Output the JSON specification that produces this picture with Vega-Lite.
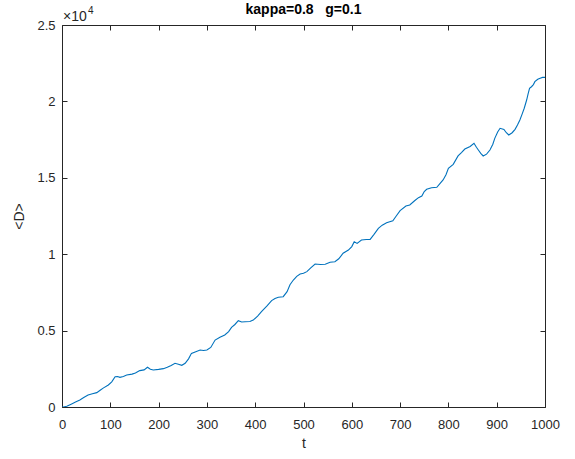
{
  "$schema": "https://vega.github.io/schema/vega-lite/v6.json",
  "width": 483,
  "height": 382,
  "autosize": {"type": "none"},
  "padding": {"left": 62, "top": 25, "right": 30, "bottom": 52},
  "background": "#ffffff",
  "config": {
    "view": {"stroke": null},
    "font": "Liberation Sans",
    "axis": {
      "domainColor": "#262626",
      "tickColor": "#262626",
      "labelColor": "#262626",
      "titleColor": "#262626",
      "labelFont": "Liberation Sans",
      "titleFont": "Liberation Sans",
      "labelFontSize": 13,
      "titleFontSize": 14,
      "titleFontWeight": "normal",
      "grid": false,
      "tickSize": -5,
      "domainWidth": 1,
      "tickWidth": 1
    }
  },
  "title": {
    "text": "kappa=0.8\u00a0\u00a0\u00a0g=0.1",
    "font": "Liberation Sans",
    "fontSize": 14,
    "fontWeight": "bold",
    "color": "#000000",
    "anchor": "middle",
    "offset": -11
  },
  "data": {
    "values": [
      {"t": 0, "D": 0}, {"t": 3, "D": 0}, {"t": 10, "D": 50}, {"t": 20, "D": 200}, {"t": 28, "D": 320},
      {"t": 37, "D": 460}, {"t": 45, "D": 620}, {"t": 54, "D": 790}, {"t": 63, "D": 870}, {"t": 72, "D": 940},
      {"t": 79, "D": 1100}, {"t": 86, "D": 1250}, {"t": 96, "D": 1440}, {"t": 103, "D": 1650}, {"t": 110, "D": 1980},
      {"t": 115, "D": 2000}, {"t": 120, "D": 1940}, {"t": 127, "D": 2000}, {"t": 134, "D": 2090}, {"t": 145, "D": 2150},
      {"t": 152, "D": 2220}, {"t": 161, "D": 2380}, {"t": 170, "D": 2430}, {"t": 177, "D": 2600}, {"t": 183, "D": 2470},
      {"t": 189, "D": 2420}, {"t": 200, "D": 2460}, {"t": 210, "D": 2510}, {"t": 218, "D": 2600}, {"t": 226, "D": 2720},
      {"t": 234, "D": 2860}, {"t": 241, "D": 2800}, {"t": 248, "D": 2730}, {"t": 255, "D": 2860}, {"t": 262, "D": 3150},
      {"t": 268, "D": 3510}, {"t": 277, "D": 3620}, {"t": 286, "D": 3730}, {"t": 293, "D": 3700}, {"t": 300, "D": 3730},
      {"t": 308, "D": 3900}, {"t": 317, "D": 4380}, {"t": 327, "D": 4560}, {"t": 337, "D": 4710}, {"t": 345, "D": 4930},
      {"t": 351, "D": 5210}, {"t": 358, "D": 5400}, {"t": 365, "D": 5650}, {"t": 372, "D": 5560}, {"t": 379, "D": 5580},
      {"t": 389, "D": 5600}, {"t": 396, "D": 5690}, {"t": 405, "D": 5950}, {"t": 413, "D": 6240}, {"t": 424, "D": 6600},
      {"t": 434, "D": 6960}, {"t": 441, "D": 7100}, {"t": 448, "D": 7180}, {"t": 458, "D": 7220}, {"t": 466, "D": 7550},
      {"t": 472, "D": 8000}, {"t": 479, "D": 8310}, {"t": 486, "D": 8550}, {"t": 493, "D": 8700}, {"t": 500, "D": 8750},
      {"t": 507, "D": 8860}, {"t": 515, "D": 9100}, {"t": 524, "D": 9360}, {"t": 535, "D": 9330}, {"t": 545, "D": 9340},
      {"t": 555, "D": 9470}, {"t": 565, "D": 9510}, {"t": 573, "D": 9700}, {"t": 582, "D": 10060}, {"t": 593, "D": 10270},
      {"t": 600, "D": 10500}, {"t": 605, "D": 10820}, {"t": 611, "D": 10710}, {"t": 620, "D": 10930}, {"t": 630, "D": 10960},
      {"t": 638, "D": 10970}, {"t": 646, "D": 11300}, {"t": 655, "D": 11690}, {"t": 663, "D": 11900}, {"t": 672, "D": 12060},
      {"t": 685, "D": 12190}, {"t": 692, "D": 12500}, {"t": 700, "D": 12850}, {"t": 712, "D": 13150}, {"t": 720, "D": 13220},
      {"t": 730, "D": 13500}, {"t": 738, "D": 13700}, {"t": 745, "D": 13810}, {"t": 750, "D": 14100}, {"t": 755, "D": 14250},
      {"t": 765, "D": 14350}, {"t": 776, "D": 14380}, {"t": 782, "D": 14600}, {"t": 789, "D": 14860}, {"t": 795, "D": 15200},
      {"t": 800, "D": 15620}, {"t": 810, "D": 15880}, {"t": 820, "D": 16430}, {"t": 827, "D": 16650}, {"t": 834, "D": 16880},
      {"t": 845, "D": 17050}, {"t": 853, "D": 17260}, {"t": 858, "D": 17000}, {"t": 862, "D": 16820}, {"t": 867, "D": 16600},
      {"t": 872, "D": 16430}, {"t": 879, "D": 16550}, {"t": 886, "D": 16820}, {"t": 892, "D": 17200}, {"t": 896, "D": 17580},
      {"t": 902, "D": 18000}, {"t": 907, "D": 18240}, {"t": 915, "D": 18170}, {"t": 920, "D": 17950}, {"t": 925, "D": 17800},
      {"t": 932, "D": 17950}, {"t": 938, "D": 18170}, {"t": 943, "D": 18450}, {"t": 948, "D": 18780}, {"t": 953, "D": 19200},
      {"t": 957, "D": 19550}, {"t": 962, "D": 20090}, {"t": 965, "D": 20500}, {"t": 968, "D": 20860}, {"t": 972, "D": 20960},
      {"t": 976, "D": 21100}, {"t": 979, "D": 21290}, {"t": 985, "D": 21450}, {"t": 990, "D": 21510}, {"t": 995, "D": 21570},
      {"t": 1000, "D": 21570}
    ]
  },
  "layer": [
    {
      "mark": {"type": "line", "color": "#0072BD", "strokeWidth": 1.1, "clip": true},
      "encoding": {
        "x": {
          "field": "t", "type": "quantitative",
          "scale": {"domain": [0, 1000], "nice": false, "zero": false},
          "axis": {"orient": "bottom", "values": [0, 100, 200, 300, 400, 500, 600, 700, 800, 900, 1000], "format": "d", "labelPadding": 16, "title": "t", "titlePadding": 5, "labelFlush": false}
        },
        "y": {
          "field": "D", "type": "quantitative",
          "scale": {"domain": [0, 25000], "nice": false, "zero": false},
          "axis": {"orient": "left", "values": [0, 5000, 10000, 15000, 20000, 25000], "labelExpr": "format(datum.value / 10000, '~g')", "labelPadding": 12, "title": "<D>", "titlePadding": 10, "labelFlush": false}
        }
      }
    },
    {
      "mark": {"type": "line", "opacity": 0},
      "encoding": {
        "x": {
          "field": "t", "type": "quantitative",
          "scale": {"domain": [0, 1000], "nice": false, "zero": false},
          "axis": {"orient": "top", "values": [0, 100, 200, 300, 400, 500, 600, 700, 800, 900, 1000], "labels": false, "title": null}
        },
        "y": {
          "field": "D", "type": "quantitative",
          "scale": {"domain": [0, 25000], "nice": false, "zero": false},
          "axis": {"orient": "right", "values": [0, 5000, 10000, 15000, 20000, 25000], "labels": false, "title": null}
        }
      }
    },
    {
      "data": {"values": [{"t": 0, "D": 25000, "label": "×10"}]},
      "mark": {"type": "text", "align": "left", "baseline": "alphabetic", "dx": 1, "dy": -4, "fontSize": 14, "font": "Liberation Sans", "color": "#262626"},
      "encoding": {
        "x": {"field": "t", "type": "quantitative", "scale": {"domain": [0, 1000], "nice": false, "zero": false}, "axis": null},
        "y": {"field": "D", "type": "quantitative", "scale": {"domain": [0, 25000], "nice": false, "zero": false}, "axis": null},
        "text": {"field": "label"}
      }
    },
    {
      "data": {"values": [{"t": 0, "D": 25000, "label": "4"}]},
      "mark": {"type": "text", "align": "left", "baseline": "alphabetic", "dx": 26, "dy": -11, "fontSize": 10, "font": "Liberation Sans", "color": "#262626"},
      "encoding": {
        "x": {"field": "t", "type": "quantitative", "scale": {"domain": [0, 1000], "nice": false, "zero": false}, "axis": null},
        "y": {"field": "D", "type": "quantitative", "scale": {"domain": [0, 25000], "nice": false, "zero": false}, "axis": null},
        "text": {"field": "label"}
      }
    }
  ],
  "resolve": {"scale": {"x": "independent", "y": "independent"}}
}
